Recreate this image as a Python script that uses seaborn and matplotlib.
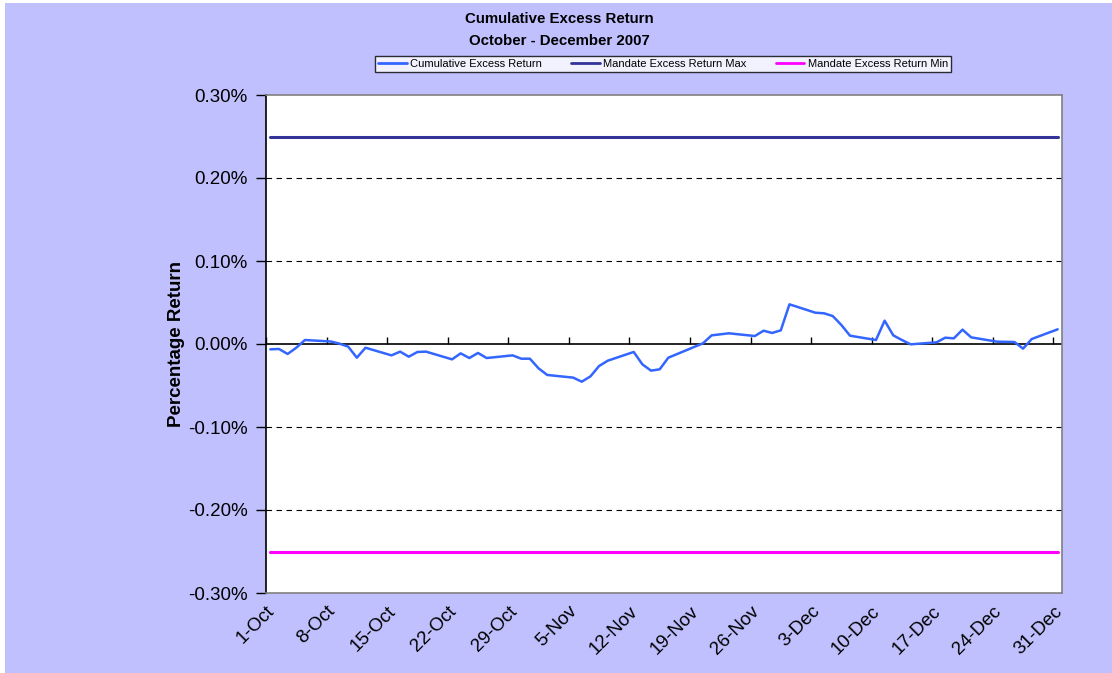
import matplotlib
matplotlib.use("Agg")
import matplotlib.pyplot as plt
import numpy as np
import pandas as pd
import seaborn as sns
from matplotlib.patches import Rectangle
from matplotlib.ticker import FuncFormatter, FixedLocator

# ── data (percent units) ──────────────────────────────────────────────────────

trade_dates = [
    "2007-10-01", "2007-10-02", "2007-10-03", "2007-10-04", "2007-10-05",
    "2007-10-08", "2007-10-09", "2007-10-10", "2007-10-11", "2007-10-12",
    "2007-10-15", "2007-10-16", "2007-10-17", "2007-10-18", "2007-10-19",
    "2007-10-22", "2007-10-23", "2007-10-24", "2007-10-25", "2007-10-26",
    "2007-10-29", "2007-10-30", "2007-10-31", "2007-11-01", "2007-11-02",
    "2007-11-05", "2007-11-06", "2007-11-07", "2007-11-08", "2007-11-09",
    "2007-11-12", "2007-11-13", "2007-11-14", "2007-11-15", "2007-11-16",
    "2007-11-19", "2007-11-20", "2007-11-21", "2007-11-23",
    "2007-11-26", "2007-11-27", "2007-11-28", "2007-11-29", "2007-11-30",
    "2007-12-03", "2007-12-04", "2007-12-05", "2007-12-06", "2007-12-07",
    "2007-12-10", "2007-12-11", "2007-12-12", "2007-12-13", "2007-12-14",
    "2007-12-17", "2007-12-18", "2007-12-19", "2007-12-20", "2007-12-21",
    "2007-12-24", "2007-12-26", "2007-12-27", "2007-12-28", "2007-12-31",
]

cum_excess = [
    -0.0064, -0.0060, -0.0120, -0.0045, 0.0048,
    0.0030, 0.0004, -0.0032, -0.0165, -0.0045,
    -0.0137, -0.0092, -0.0153, -0.0096, -0.0092,
    -0.0185, -0.0113, -0.0169, -0.0108, -0.0169,
    -0.0137, -0.0177, -0.0177, -0.0293, -0.0373,
    -0.0405, -0.0454, -0.0390, -0.0265, -0.0201,
    -0.0096, -0.0245, -0.0321, -0.0305, -0.0165,
    -0.0035, 0.0008, 0.0104, 0.0129,
    0.0096, 0.0160, 0.0133, 0.0165, 0.0478,
    0.0377, 0.0370, 0.0337, 0.0229, 0.0100,
    0.0048, 0.0281, 0.0104, 0.0048, -0.0004,
    0.0020, 0.0076, 0.0068, 0.0173, 0.0080,
    0.0028, 0.0024, -0.0056, 0.0060, 0.0177,
]

mandate_max = [0.25] * len(trade_dates)
mandate_min = [-0.25] * len(trade_dates)

week_ticks = [
    "2007-10-01", "2007-10-08", "2007-10-15", "2007-10-22", "2007-10-29",
    "2007-11-05", "2007-11-12", "2007-11-19", "2007-11-26", "2007-12-03",
    "2007-12-10", "2007-12-17", "2007-12-24", "2007-12-31",
]
y_ticks = [-0.30, -0.20, -0.10, 0.00, 0.10, 0.20, 0.30]

title_txt = "Cumulative Excess Return\nOctober - December 2007"
y_label = "Percentage Return"

# ── styling ───────────────────────────────────────────────────────────────────

BG = "#C0C0FF"
C_CUM = "#3366FF"
C_MAX = "#333399"
C_MIN = "#FF00FF"

sns.set_style("white")
plt.rcParams["font.family"] = ["Liberation Sans", "DejaVu Sans"]
plt.rcParams["text.color"] = "black"
plt.rcParams["axes.labelcolor"] = "black"

df = pd.DataFrame({
    "Date": pd.to_datetime(trade_dates) + pd.Timedelta(hours=12),
    "Cumulative Excess Return": cum_excess,
    "Mandate Excess Return Max": mandate_max,
    "Mandate Excess Return Min": mandate_min,
})
long = df.melt(id_vars="Date", var_name="Series", value_name="Return")

fig = plt.figure(figsize=(11.12, 6.73), dpi=100)
fig.patch.set_facecolor("white")
fig.patches.append(Rectangle((5 / 1112, 0), 1 - 5 / 1112, 1 - 3 / 673,
                             transform=fig.transFigure, facecolor=BG,
                             edgecolor="none", zorder=-10))

ax = fig.add_axes([266 / 1112, 80 / 673, 796 / 1112, 498 / 673])
ax.set_facecolor("white")

palette = {
    "Cumulative Excess Return": C_CUM,
    "Mandate Excess Return Max": C_MAX,
    "Mandate Excess Return Min": C_MIN,
}
sns.lineplot(data=long, x="Date", y="Return", hue="Series", palette=palette,
             ax=ax, linewidth=2.0, legend=False, zorder=3)
for ln, lw in zip(ax.get_lines(), [1.8, 2.2, 2.2]):
    ln.set_linewidth(lw)

ax.set_xlim(pd.Timestamp("2007-10-01"), pd.Timestamp("2008-01-01"))
ax.set_ylim(-0.30, 0.30)

# dashed gridlines
for v in y_ticks[1:-1]:
    if v != 0:
        ax.axhline(v, color="black", linewidth=0.8, linestyle=(0, (5, 4)), zorder=1)
ax.axhline(0, color="black", linewidth=1.2, zorder=2)

ax.yaxis.set_major_locator(FixedLocator(y_ticks))
ax.yaxis.set_major_formatter(FuncFormatter(lambda v, p: f"{v:.2f}%"))
ax.tick_params(axis="y", direction="out", length=7, width=1, colors="black",
               labelsize=13.5, pad=6, left=True)

tick_dates = pd.to_datetime(week_ticks)
ax.set_xticks(tick_dates)
ax.set_xticklabels([f"{d.day}-{d.strftime('%b')}" for d in tick_dates],
                   rotation=45, ha="right", rotation_mode="anchor")
ax.tick_params(axis="x", length=0, labelsize=13.5, pad=7, colors="black")

# category axis crossing at zero with downward ticks
sec = ax.secondary_xaxis(0.5)
sec.set_xticks(tick_dates)
sec.set_xticklabels([""] * len(tick_dates))
sec.tick_params(axis="x", length=5, width=1, colors="black")
for s in sec.spines.values():
    s.set_visible(False)

for side in ["top", "right", "bottom"]:
    ax.spines[side].set_color("#808080")
    ax.spines[side].set_linewidth(1.2)
ax.spines["left"].set_color("black")
ax.spines["left"].set_linewidth(1.2)

ax.set_xlabel("")
ax.set_ylabel(y_label, fontsize=13.5, fontweight="bold", labelpad=2, color="black")

fig.text(559 / 1112, 1 - 30 / 673, title_txt, ha="center", va="center",
         fontsize=10.8, fontweight="bold", linespacing=1.65, color="black")

handles = [plt.Line2D([], [], color=palette[k], linewidth=2) for k in palette]
leg = fig.legend(handles, list(palette.keys()), loc="center",
                 bbox_to_anchor=(663 / 1112, 1 - 64 / 673), ncol=3,
                 fontsize=8, frameon=True, fancybox=False, handlelength=2.6,
                 handletextpad=0.3, columnspacing=2.6, borderpad=0.3,
                 labelcolor="black")
leg.get_frame().set_edgecolor("black")
leg.get_frame().set_linewidth(1.0)
leg.get_frame().set_facecolor("white")

fig.savefig("out.png", dpi=100, facecolor=fig.get_facecolor())
